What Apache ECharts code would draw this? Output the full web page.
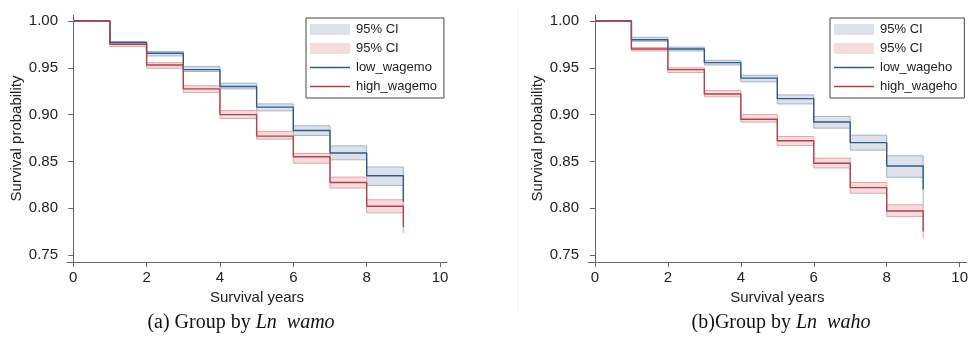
<!DOCTYPE html>
<html>
<head>
<meta charset="utf-8">
<script src="https://cdn.jsdelivr.net/npm/echarts@6/dist/echarts.min.js"></script>
<style>
  html, body { margin: 0; padding: 0; background: #fff; }
  #chart { width: 971px; height: 338px; }
</style>
</head>
<body>
<div id="chart"></div>
<script>
// survival years (step points)
var years = [0, 1, 2, 3, 4, 5, 6, 7, 8, 9]
var xTicks = [0, 2, 4, 6, 8, 10]
var yTicks = [0.75, 0.80, 0.85, 0.90, 0.95, 1.00]

// (a) grouped by Ln_wamo
var lowWagemo = [1.000, 0.977, 0.9655, 0.948, 0.930, 0.908, 0.883, 0.859, 0.8346, 0.807]
var lowWagemoLo = [1.000, 0.975, 0.9627, 0.946, 0.9275, 0.904, 0.8777, 0.8517, 0.8243, 0.800]
var lowWagemoHi = [1.000, 0.978, 0.9673, 0.9513, 0.9335, 0.9114, 0.888, 0.8666, 0.844, 0.815]
var highWagemo = [1.000, 0.975, 0.953, 0.9275, 0.900, 0.877, 0.855, 0.8275, 0.802, 0.780]
var highWagemoLo = [1.000, 0.9726, 0.9495, 0.9235, 0.8958, 0.8737, 0.848, 0.8215, 0.795, 0.773]
var highWagemoHi = [1.000, 0.976, 0.9555, 0.9307, 0.9043, 0.882, 0.8584, 0.8332, 0.809, 0.787]

// (b) grouped by Ln_waho
var lowWageho = [1.000, 0.980, 0.970, 0.9555, 0.939, 0.917, 0.892, 0.870, 0.845, 0.820]
var lowWagehoLo = [1.000, 0.9783, 0.968, 0.953, 0.935, 0.9114, 0.8855, 0.862, 0.833, 0.804]
var lowWagehoHi = [1.000, 0.9826, 0.972, 0.958, 0.942, 0.921, 0.898, 0.878, 0.856, 0.835]
var highWageho = [1.000, 0.970, 0.948, 0.922, 0.895, 0.872, 0.848, 0.822, 0.797, 0.775]
var highWagehoLo = [1.000, 0.968, 0.945, 0.919, 0.892, 0.867, 0.843, 0.816, 0.791, 0.768]
var highWagehoHi = [1.000, 0.9716, 0.950, 0.9257, 0.900, 0.8766, 0.8535, 0.8275, 0.8037, 0.782]

var BLUE = '#2d5b8b'
var RED = '#b0424a'
var BLUE_FILL = '#dde2ea'
var BLUE_EDGE = '#a3b3c8'
var RED_FILL = '#f7dcdd'
var RED_EDGE = '#e4a5a8'
var FONT = 'Liberation Sans, Arial, sans-serif'
var SERIF = 'Liberation Serif, Times New Roman, serif'
// thin horizontal bar inside a 40x11 box, used as legend icon for the curves
var LINE_ICON = 'path://M0,0L0.01,0L0.01,0.01ZM0,4.8L40,4.8L40,6.2L0,6.2ZM0,11L0.01,11L0.01,10.99Z'

function pairs(vals) {
  return years.map(function (t, i) { return [t, vals[i]] })
}

// CI band as stair-step area: one item per interval [t, tNext, lo, hi, prevHi]
function band(idx, name, lo, hi, fill, edge) {
  var data = years.map(function (t, i) {
    var tNext = i < years.length - 1 ? years[i + 1] : t
    return [t, tNext, lo[i], hi[i], i > 0 ? hi[i - 1] : hi[i]]
  })
  return {
    name: name, type: 'custom', xAxisIndex: idx, yAxisIndex: idx,
    silent: true, z: 1,
    itemStyle: { color: fill },
    encode: { x: [0, 1], y: [2, 3] },
    data: data,
    renderItem: function (params, api) {
      var p0 = api.coord([api.value(0), api.value(3)])
      var p1 = api.coord([api.value(1), api.value(2)])
      var pv = api.coord([api.value(0), api.value(4)])
      var es = { stroke: edge, lineWidth: 1 }
      return {
        type: 'group',
        children: [
          { type: 'rect', shape: { x: p0[0], y: p0[1], width: p1[0] - p0[0], height: p1[1] - p0[1] }, style: { fill: fill } },
          { type: 'line', shape: { x1: p0[0], y1: p0[1], x2: p1[0], y2: p0[1] }, style: es },
          { type: 'line', shape: { x1: p0[0], y1: p1[1], x2: p1[0], y2: p1[1] }, style: es },
          { type: 'line', shape: { x1: p0[0], y1: pv[1], x2: p0[0], y2: p1[1] }, style: es }
        ]
      }
    }
  }
}

function curve(idx, name, vals, color) {
  return {
    name: name, type: 'line', xAxisIndex: idx, yAxisIndex: idx,
    step: 'end', symbol: 'none', z: 3,
    itemStyle: { color: color },
    lineStyle: { color: color, width: 1.4 },
    data: pairs(vals)
  }
}

function xAxis(idx, min) {
  return {
    type: 'value', gridIndex: idx, min: min, max: 10.19,
    name: 'Survival years', nameLocation: 'middle', nameGap: 22,
    nameTextStyle: { fontFamily: FONT, fontSize: 15, color: '#222' },
    axisLine: { lineStyle: { color: '#666', width: 1 } },
    axisTick: { length: 5, lineStyle: { color: '#666' }, customValues: xTicks },
    axisLabel: { fontFamily: FONT, fontSize: 15, color: '#222', margin: 8, customValues: xTicks },
    splitLine: { show: false }
  }
}

function yAxis(idx) {
  return {
    type: 'value', gridIndex: idx, min: 0.7425, max: 1.0064,
    name: 'Survival probability', nameLocation: 'middle', nameGap: 43,
    nameTextStyle: { fontFamily: FONT, fontSize: 15, color: '#222' },
    axisLine: { show: true, lineStyle: { color: '#666', width: 1 } },
    axisTick: { show: true, length: 5, lineStyle: { color: '#666' }, customValues: yTicks },
    axisLabel: {
      fontFamily: FONT, fontSize: 15, color: '#222', margin: 9, customValues: yTicks,
      formatter: function (v) { return v.toFixed(2) }
    },
    splitLine: { show: false }
  }
}

function legend(left, names) {
  return {
    left: left, top: 18, orient: 'vertical',
    itemWidth: 40, itemHeight: 11, itemGap: 6,
    padding: [5, 7, 5, 4],
    borderColor: '#444', borderWidth: 1,
    selectedMode: false,
    textStyle: { fontFamily: FONT, fontSize: 13, color: '#222', padding: [0, 0, 0, 1] },
    formatter: function (n) { return n.indexOf('ci') === 0 ? '95% CI' : n },
    data: [
      { name: names[0], icon: 'rect', itemStyle: { color: BLUE_FILL, borderWidth: 0 } },
      { name: names[1], icon: 'rect', itemStyle: { color: RED_FILL, borderWidth: 0 } },
      { name: names[2], icon: LINE_ICON, itemStyle: { color: BLUE, borderWidth: 0 } },
      { name: names[3], icon: LINE_ICON, itemStyle: { color: RED, borderWidth: 0 } }
    ]
  }
}

function caption(x, label, italic) {
  return {
    type: 'text', x: x, y: 323, silent: true,
    style: {
      text: '{n|' + label + '}{i|' + italic + '}',
      align: 'center', verticalAlign: 'middle',
      rich: {
        n: { fontFamily: SERIF, fontSize: 20, fill: '#111' },
        i: { fontFamily: SERIF, fontSize: 20, fontStyle: 'italic', fill: '#111' }
      }
    }
  }
}

var chart = echarts.init(document.getElementById('chart'))

chart.setOption({
  backgroundColor: '#fff',
  animation: false,
  grid: [
    { left: 67, top: 15, width: 380, height: 247 },
    { left: 588, top: 15, width: 380, height: 247 }
  ],
  xAxis: [xAxis(0, -0.17), xAxis(1, -0.19)],
  yAxis: [yAxis(0), yAxis(1)],
  legend: [
    legend(306, ['ciLowMo', 'ciHighMo', 'low_wagemo', 'high_wagemo']),
    legend(830, ['ciLowHo', 'ciHighHo', 'low_wageho', 'high_wageho'])
  ],
  series: [
    band(0, 'ciLowMo', lowWagemoLo, lowWagemoHi, BLUE_FILL, BLUE_EDGE),
    band(0, 'ciHighMo', highWagemoLo, highWagemoHi, RED_FILL, RED_EDGE),
    curve(0, 'low_wagemo', lowWagemo, BLUE),
    curve(0, 'high_wagemo', highWagemo, RED),
    band(1, 'ciLowHo', lowWagehoLo, lowWagehoHi, BLUE_FILL, BLUE_EDGE),
    band(1, 'ciHighHo', highWagehoLo, highWagehoHi, RED_FILL, RED_EDGE),
    curve(1, 'low_wageho', lowWageho, BLUE),
    curve(1, 'high_wageho', highWageho, RED)
  ],
  graphic: [
    { type: 'line', shape: { x1: 517.5, y1: 10, x2: 517.5, y2: 310 }, style: { stroke: '#f3f3f3', lineWidth: 1 }, silent: true },
    caption(241, '(a) Group by ', 'Ln  wamo'),
    caption(781, '(b)Group by ', 'Ln  waho')
  ]
})
</script>
</body>
</html>
